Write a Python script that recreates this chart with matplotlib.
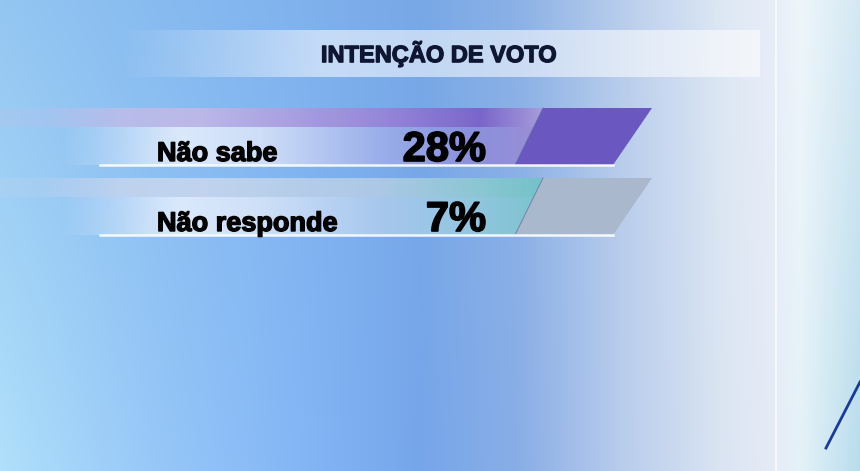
import numpy as np
import matplotlib
matplotlib.use('Agg')
import matplotlib.pyplot as plt
from matplotlib.patches import Polygon
from matplotlib.colors import to_rgb
import matplotlib.patheffects as pe

# dados do grafico
title = 'INTENÇÃO DE VOTO'
categories = ['Não sabe', 'Não responde']
values = [28, 7]
bar_colors = ['#6a58c0', '#a9b8cc']

W, H = 860, 471


def hgrad(stops, width=W):
    # gradiente horizontal a partir de (x, cor)
    xs = np.arange(width)
    px = [s[0] for s in stops]
    cols = np.array([to_rgb(s[1]) for s in stops])
    return np.stack([np.interp(xs, px, cols[:, k]) for k in range(3)], axis=-1)


fig = plt.figure(figsize=(8.6, 4.71), dpi=100)
ax = fig.add_axes([0, 0, 1, 1])
ax.set_xlim(0, W)
ax.set_ylim(H, 0)
ax.axis('off')

# fundo azul
top = hgrad([(0, '#94c6f2'), (150, '#88bcf0'), (300, '#80b2ee'), (420, '#78a8e6'),
             (520, '#8cb2e6'), (620, '#b8cdec'), (720, '#dde7f4'), (775, '#e8eef8'),
             (800, '#eef6fa'), (860, '#d4e8f4')])
bot = hgrad([(0, '#b0e0fa'), (150, '#98c8f8'), (300, '#84b6f6'), (420, '#76a6ea'),
             (520, '#8aaee6'), (620, '#b8ccec'), (720, '#dae4f2'), (775, '#e6ecf6'),
             (800, '#e4f2f8'), (860, '#b8dcec')])
t = np.linspace(0, 1, H)[:, None, None]
bg = top[None, :, :] * (1 - t) + bot[None, :, :] * t
ax.imshow(bg, extent=(0, W, H, 0), aspect='auto', zorder=0, interpolation='bilinear')
ax.axvline(776, color='white', lw=1.2, alpha=0.8, zorder=1)
ax.plot([826, 860], [448, 382], color='#1a3a9a', lw=2, zorder=1)

# faixa do titulo
alpha = np.clip((np.arange(W) - 120) / 200.0, 0, 1) * 0.55
band = np.ones((1, W, 4))
band[0, :, 3] = alpha
band[0, 760:, 3] = 0
ax.imshow(band, extent=(0, W, 77, 30), aspect='auto', zorder=2)
ax.text(439, 54, title, ha='center', va='center', fontsize=17, fontweight='bold',
        family='Liberation Sans', color='#0e1632', zorder=5,
        path_effects=[pe.withStroke(linewidth=0.9, foreground='#0e1632')])

# linhas das categorias
row_top, row_gap, strip_h, row_h = 108, 70, 19, 57
sep_top, sep_bot, end_top, end_bot = 543, 515, 652, 613

for i, (cat, val) in enumerate(zip(categories, values)):
    y0 = row_top + i * row_gap
    y1 = y0 + strip_h
    y2 = y0 + row_h

    # gradientes da faixa superior e da parte de baixo
    if i == 0:
        sc = hgrad([(0, '#b6c4ec'), (200, '#c2b8e8'), (380, '#9a84d8'), (480, '#7a5ec8'), (540, '#a898da')])
        lc = hgrad([(0, '#cfe2fa'), (150, '#eef4fe'), (260, '#dce6fa'), (380, '#a0b0ea'), (470, '#8c8cdc'), (530, '#9a88d4')])
    else:
        sc = hgrad([(0, '#bcd2ee'), (200, '#c8d6ee'), (380, '#b2cce6'), (480, '#8ccad0'), (540, '#72c4c6')])
        lc = hgrad([(0, '#cfe2fa'), (150, '#eef4fe'), (260, '#dce8fa'), (380, '#b0cdee'), (470, '#96cce0'), (530, '#7ec8cc')])
    sa = np.clip(np.arange(W) / 120.0, 0.35, 1)[None, :, None]
    simg = np.concatenate([sc[None], np.broadcast_to(sa, (1, W, 1)) * 0.9], axis=-1)
    la = np.clip((np.arange(W) - 60) / 120.0, 0.0, 1)[None, :, None]
    limg = np.concatenate([lc[None], np.broadcast_to(la, (1, W, 1)) * 0.85], axis=-1)

    clip = Polygon([(0, y0), (sep_top, y0), (sep_bot, y2), (0, y2)], closed=True,
                   transform=ax.transData, facecolor='none', edgecolor='none')
    ax.add_patch(clip)
    im1 = ax.imshow(simg, extent=(0, W, y1, y0), aspect='auto', zorder=3)
    im2 = ax.imshow(limg, extent=(0, W, y2, y1), aspect='auto', zorder=3)
    im1.set_clip_path(clip)
    im2.set_clip_path(clip)

    # ponta inclinada
    ax.add_patch(Polygon([(sep_top, y0), (end_top, y0), (end_bot, y2), (sep_bot, y2)],
                         closed=True, facecolor=bar_colors[i], edgecolor='none', zorder=4))
    ax.plot([sep_top, sep_bot], [y0, y2], color='#5a6aa0', lw=0.8, alpha=0.6, zorder=4)

    # linha branca inferior
    ax.plot([100, end_bot], [y2, y2], color='white', lw=1.8, alpha=0.9, zorder=4)

    ax.text(157, y2 - 4, cat, ha='left', va='baseline', fontsize=19.5, fontweight='bold',
            family='Liberation Sans', color='black', zorder=5,
            path_effects=[pe.withStroke(linewidth=1.0, foreground='black')])
    ax.text(486, y2 - 4, '{}%'.format(val), ha='right', va='baseline', fontsize=30,
            fontweight='bold', family='Liberation Sans', color='black', zorder=5,
            path_effects=[pe.withStroke(linewidth=1.2, foreground='black')])

plt.savefig('out.png', dpi=100)
plt.close()
